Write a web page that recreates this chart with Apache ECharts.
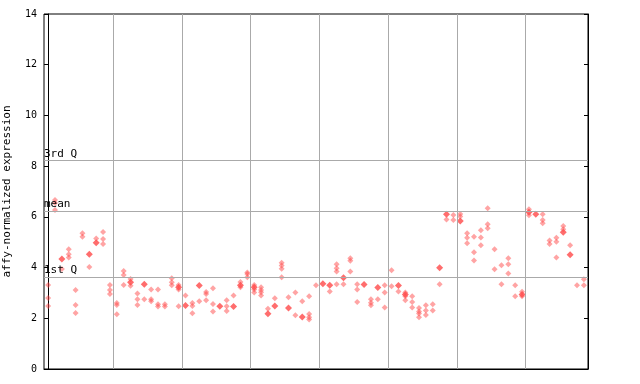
<!DOCTYPE html>
<html>
<head>
<meta charset="utf-8">
<script src="https://cdn.jsdelivr.net/npm/echarts@6/dist/echarts.min.js"></script>
<style>html,body{margin:0;padding:0;background:#fff}#c{width:640px;height:384px}</style>
</head>
<body>
<div id="c"></div>
<script>
// open (checkered) markers per sample column
const openValues = [
  [3.31,2.80,2.48],[6.66,6.55,6.27],[3.94],[4.72,4.53,4.40],[3.12,2.52,2.21],
  [5.35,5.22],[4.02],[5.15],[5.40,5.13,4.93],[3.31,3.12,2.96],
  [2.60,2.52,2.16],[3.86,3.71,3.31],[3.55,3.28],[2.98,2.75,2.52],[2.75],
  [3.14,2.75,2.67],[3.14,2.55,2.46],[2.55,2.46],[3.58,3.42,3.30],[3.31,3.14,2.47],
  [2.90],[2.60,2.48,2.20],[2.67],[3.04,2.96,2.71],[3.18,2.56,2.27],
  [],[2.71,2.47,2.29],[2.90],[3.43,3.22],[3.81,3.75,3.62],
  [3.31,3.14,3.02],[3.22,3.12,3.03,2.90],[2.38],[2.79],[4.19,4.08,3.95,3.62],
  [2.83],[3.02,2.12],[2.67],[2.87,2.17,2.04,1.95],[3.30],
  [],[3.06],[4.13,3.97,3.85,3.34],[3.34],[4.37,4.27,3.85],
  [3.34,3.14,2.64],[],[2.75,2.61,2.51],[2.75],[3.30,3.02,2.43],
  [3.89,3.26],[3.06],[3.02,2.87,2.71],[2.87,2.64,2.43],[2.41,2.27,2.19,2.04],
  [2.51,2.31,2.13],[2.55,2.31],[3.34],[5.90],[6.07,5.88],
  [6.11,6.01],[5.35,5.18,4.96],[5.22,4.60,4.28],[5.47,5.19,4.88],[6.34,5.71,5.55],
  [4.72,3.93],[4.09,3.34],[4.37,4.13,3.77],[3.30,2.87],[3.05,2.87],
  [6.30,6.06],[],[6.10,5.88,5.75],[5.07,4.93],[5.18,5.02,4.40],
  [5.64,5.51],[4.88],[3.30],[3.54,3.30]
];
// solid markers per sample column
const solidValues = [
  [],[],[4.34],[],[],[],[4.53],[4.98],[],[],
  [],[],[3.42],[],[3.34],[],[],[],[],[3.22],
  [2.50],[],[3.29],[],[],[2.47],[],[2.46],[3.30],[],
  [3.22],[],[2.18],[2.48],[],[2.41],[],[2.05],[],[],
  [3.36],[3.30],[],[3.60],[],[],[3.33],[],[3.21],[],
  [],[3.29],[2.94],[],[],[],[],[3.99],[6.10],[],
  [5.84],[],[],[],[],[],[],[],[],[2.94],
  [6.18],[6.10],[],[],[],[5.39],[4.51],[],[]
];
const groupBoundaries = [9.5,19.5,29.5,39.5,49.5,59.5,69.5];
const quartileLines = [
  {name:'1st Q', value:3.63},
  {name:'mean', value:6.23},
  {name:'3rd Q', value:8.23}
];
const yTicks = {min:0, max:14, interval:2};

function toPoints(arr){
  const out=[];
  arr.forEach((vals,i)=>vals.forEach(v=>out.push([i,v])));
  return out;
}

const font = 'DejaVu Sans Mono';
const chart = echarts.init(document.getElementById('c'), null, {renderer:'canvas'});
chart.setOption({
  animation:false,
  backgroundColor:'#fff',
  grid:{left:44, right:52, top:14, bottom:15, show:true, borderColor:'#000', borderWidth:1, backgroundColor:'transparent', containLabel:false, outerBoundsMode:'none'},
  xAxis:{type:'value', min:-0.6, max:78.6, axisLine:{show:true, lineStyle:{color:'#000'}}, axisTick:{show:false}, axisLabel:{show:false}, splitLine:{show:false}},
  yAxis:[
    {type:'value', min:yTicks.min, max:yTicks.max, interval:yTicks.interval, position:'left',
     name:'affy-normalized expression', nameLocation:'middle', nameGap:31,
     nameTextStyle:{fontFamily:font, fontSize:11, color:'#000'},
     axisLine:{show:true, lineStyle:{color:'#000'}},
     axisTick:{show:true, length:4, lineStyle:{color:'#000'}},
     axisLabel:{fontFamily:font, fontSize:10, color:'#000', margin:7},
     splitLine:{show:false}},
    {type:'value', min:yTicks.min, max:yTicks.max, interval:yTicks.interval, position:'right',
     axisLine:{show:true, lineStyle:{color:'#000'}},
     axisTick:{show:true, inside:true, length:4, lineStyle:{color:'#000'}},
     axisLabel:{show:false}, splitLine:{show:false}}
  ],
  series:[
    {type:'scatter', data:[], silent:true, z:1,
     markLine:{silent:true, symbol:'none', animation:false,
       lineStyle:{color:'#aaaaaa', width:1, type:'solid'},
       label:{show:false},
       data: groupBoundaries.map(x=>({xAxis:x}))}},
    {type:'scatter', data:[], silent:true, z:1,
     markLine:{silent:true, symbol:'none', animation:false,
       lineStyle:{color:'#aaaaaa', width:1, type:'solid'},
       label:{show:true, position:'insideStartTop', distance:[0,1], fontFamily:font, fontSize:11, color:'#000', formatter:p=>p.name},
       data: quartileLines.map(q=>({name:q.name, yAxis:q.value}))}},
    {type:'scatter', symbol:'diamond', symbolSize:6, z:3,
     itemStyle:{color:'rgba(255,70,70,0.62)'},
     data: toPoints(openValues)},
    {type:'scatter', symbol:'diamond', symbolSize:7, z:4,
     itemStyle:{color:'#ff4848'},
     data: toPoints(solidValues)}
  ]
});
</script>
</body>
</html>
